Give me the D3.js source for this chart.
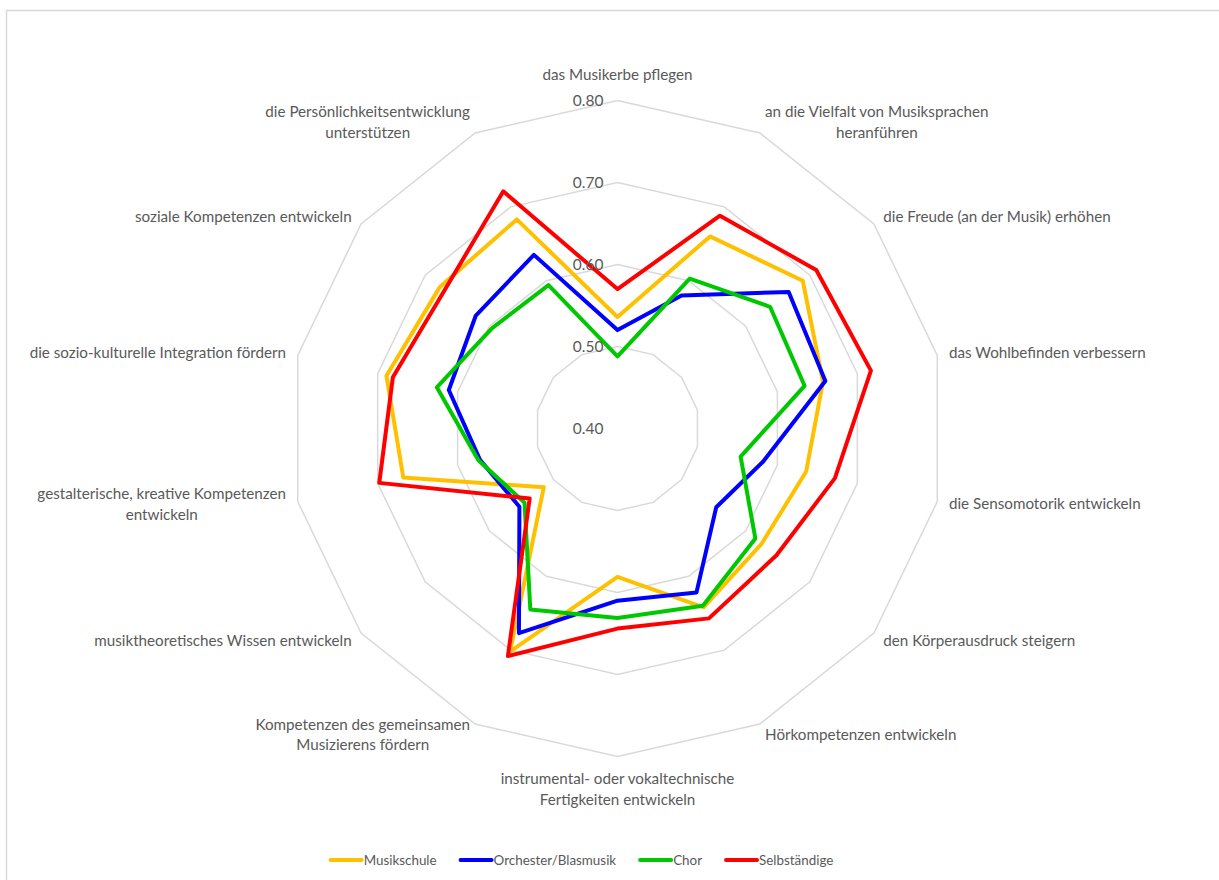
<!DOCTYPE html>
<html>
<head>
<meta charset="utf-8">
<script src="https://cdn.jsdelivr.net/npm/d3@7"></script>
<style>
  body { margin: 0; background: #fff; }
  svg text { font-family: Lato, "Open Sans", sans-serif; fill: #595959; }
</style>
</head>
<body>
<svg id="chart" width="1219" height="880"></svg>
<script>
// categories, clockwise from the top
const categories = [
  "das Musikerbe pflegen",
  "an die Vielfalt von Musiksprachen|heranführen",
  "die Freude (an der Musik) erhöhen",
  "das Wohlbefinden verbessern",
  "die Sensomotorik entwickeln",
  "den Körperausdruck steigern",
  "Hörkompetenzen entwickeln",
  "instrumental- oder vokaltechnische|Fertigkeiten entwickeln",
  "Kompetenzen des gemeinsamen|Musizierens fördern",
  "musiktheoretisches Wissen entwickeln",
  "gestalterische, kreative Kompetenzen|entwickeln",
  "die sozio-kulturelle Integration fördern",
  "soziale Kompetenzen entwickeln",
  "die Persönlichkeitsentwicklung|unterstützen",
];

const musikschule = [0.536, 0.660, 0.689, 0.657, 0.636, 0.625, 0.642, 0.581, 0.702, 0.515, 0.668, 0.689, 0.677, 0.683];
const orchester = [0.520, 0.580, 0.667, 0.660, 0.582, 0.554, 0.622, 0.610, 0.677, 0.553, 0.572, 0.611, 0.621, 0.635];
const chor = [0.488, 0.603, 0.638, 0.634, 0.554, 0.615, 0.640, 0.631, 0.645, 0.545, 0.574, 0.626, 0.596, 0.594];
const selbststaendige = [0.570, 0.688, 0.710, 0.717, 0.672, 0.648, 0.657, 0.644, 0.708, 0.537, 0.698, 0.681, 0.670, 0.721];

const seriesNames = ["Musikschule", "Orchester/Blasmusik", "Chor", "Selbständige"];
const seriesValues = [musikschule, orchester, chor, selbststaendige];
const seriesColors = ["#FFC000", "#0000FF", "#00C800", "#FF0000"];

const ticks = [0.4, 0.5, 0.6, 0.7, 0.8];

const cx = 617.5, cy = 428.5, R = 328;
const GRID = "#D9D9D9";

const svg = d3.select("#chart");

// chart frame
svg.append("rect")
  .attr("x", 6.5).attr("y", 10.5)
  .attr("width", 1230).attr("height", 900)
  .attr("fill", "none").attr("stroke", GRID).attr("stroke-width", 1.5);

const r = d3.scaleLinear().domain([0.4, 0.8]).range([0, R]);
const angle = d3.scalePoint()
  .domain(d3.range(categories.length + 1))
  .range([0, 2 * Math.PI]);

const g = svg.append("g").attr("transform", `translate(${cx},${cy})`);

// grid rings
const ring = d3.lineRadial()
  .angle((d, i) => angle(i))
  .radius(d => r(d))
  .curve(d3.curveLinearClosed);

ticks.slice(1).forEach(t => {
  g.append("path")
    .attr("d", ring(categories.map(() => t)))
    .attr("fill", "none")
    .attr("stroke", GRID)
    .attr("stroke-width", 1.5);
});

// series
const line = d3.lineRadial()
  .angle((d, i) => angle(i))
  .radius(d => r(d))
  .curve(d3.curveLinearClosed);

seriesValues.forEach((vals, s) => {
  g.append("path")
    .attr("d", line(vals))
    .attr("fill", "none")
    .attr("stroke", seriesColors[s])
    .attr("stroke-width", 4)
    .attr("stroke-linejoin", "round");
});

// tick labels
g.selectAll("text.tick")
  .data(ticks)
  .join("text")
  .attr("class", "tick")
  .attr("x", -14)
  .attr("y", d => -r(d))
  .attr("dy", "0.35em")
  .attr("text-anchor", "end")
  .style("font-size", "15.5px")
  .text(d => d.toFixed(2));

// category labels
const lineH = 20.5;
categories.forEach((c, i) => {
  const a = angle(i);
  const sx = Math.sin(a), cyv = -Math.cos(a);
  const px = (R + 12) * sx, py = (R + 12) * cyv;
  const lines = c.split("|");
  const t = g.append("text").style("font-size", "15.2px");
  const spans = lines.map(l => t.append("tspan").text(l));
  const widths = spans.map(sp => sp.node().getComputedTextLength());
  const w = d3.max(widths);
  let bx;
  if (Math.abs(sx) < 0.1) bx = px;
  else if (sx > 0) bx = px + w / 2;
  else bx = px - w / 2;
  const blockH = lines.length * lineH;
  let top;
  if (cyv < -0.95) top = py - 4 - blockH;
  else if (cyv > 0.95) top = py;
  else top = py - blockH / 2;
  spans.forEach((sp, k) => {
    sp.attr("x", bx)
      .attr("y", top + lineH * k + lineH / 2)
      .attr("dy", "0.35em")
      .attr("text-anchor", "middle");
  });
});

// legend
const legend = svg.append("g");
const items = seriesNames.map((n, s) => {
  const it = legend.append("g");
  it.append("line")
    .attr("x1", 2).attr("x2", 33)
    .attr("stroke", seriesColors[s])
    .attr("stroke-width", 4)
    .attr("stroke-linecap", "round");
  const tx = it.append("text")
    .attr("x", 35).attr("dy", "0.35em")
    .style("font-size", "13.4px")
    .text(n);
  return { it, w: 35 + tx.node().getComputedTextLength() };
});
const gap = 22;
const total = d3.sum(items, d => d.w) + gap * (items.length - 1);
let lx = 581 - total / 2;
items.forEach(d => {
  d.it.attr("transform", `translate(${lx},860)`);
  lx += d.w + gap;
});
</script>
</body>
</html>
